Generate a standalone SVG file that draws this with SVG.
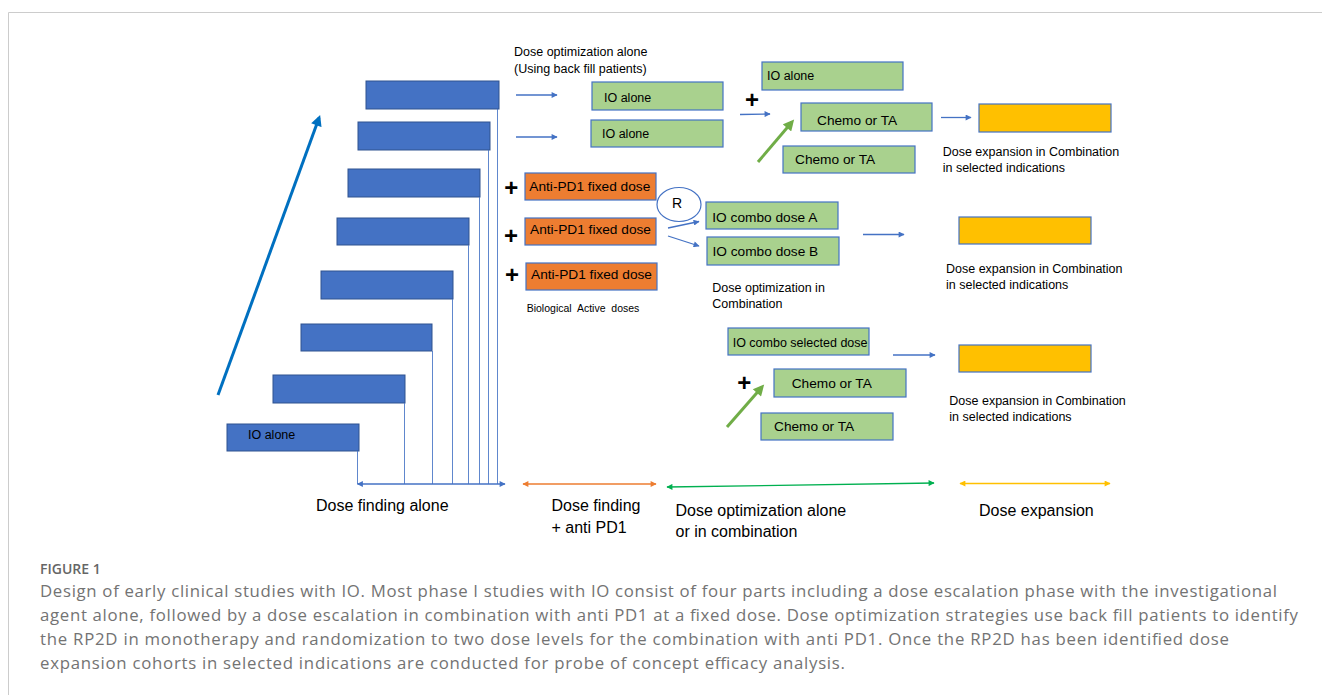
<svg xmlns="http://www.w3.org/2000/svg" width="1322" height="695" viewBox="0 0 1322 695">
<style>
text{font-family:"Liberation Sans",Arial,sans-serif;fill:#000}
.bar{fill:#4472C4;stroke:#2F528F;stroke-width:1}
.g{fill:#A9D18E;stroke:#4472C4;stroke-width:1.2}
.o{fill:#ED7D31;stroke:#4472C4;stroke-width:1.2}
.y{fill:#FFC000;stroke:#4472C4;stroke-width:1.2}
.vl{stroke:#4472C4;stroke-width:1;fill:none;opacity:0.85}
.sa{stroke:#4472C4;stroke-width:1.3;fill:none}
.t12{font-size:12.5px}
.t13{font-size:13.7px}
.plus{font-size:24px;font-weight:bold;text-anchor:middle}
.lbl{font-size:16px}
.cap{font-family:"Open Sans","Liberation Sans",sans-serif;font-size:16.8px;fill:#737373}
.fig{font-family:"Open Sans","Liberation Sans",sans-serif;font-size:14px;font-weight:600;fill:#666}
</style>
<defs>
<marker id="ab" viewBox="0 0 10 10" refX="9" refY="5" markerWidth="7" markerHeight="6" markerUnits="userSpaceOnUse" orient="auto-start-reverse"><path d="M0,0 L10,5 L0,10 z" fill="#4472C4"/></marker>
<marker id="ao" viewBox="0 0 10 10" refX="9" refY="5" markerWidth="7" markerHeight="6" markerUnits="userSpaceOnUse" orient="auto-start-reverse"><path d="M0,0 L10,5 L0,10 z" fill="#ED7D31"/></marker>
<marker id="ag" viewBox="0 0 10 10" refX="9" refY="5" markerWidth="7" markerHeight="6" markerUnits="userSpaceOnUse" orient="auto-start-reverse"><path d="M0,0 L10,5 L0,10 z" fill="#00B050"/></marker>
<marker id="ay" viewBox="0 0 10 10" refX="9" refY="5" markerWidth="7" markerHeight="6" markerUnits="userSpaceOnUse" orient="auto-start-reverse"><path d="M0,0 L10,5 L0,10 z" fill="#FFC000"/></marker>
<marker id="abig" viewBox="0 0 10 10" refX="7" refY="5" markerWidth="12" markerHeight="11" markerUnits="userSpaceOnUse" orient="auto"><path d="M0,0 L10,5 L0,10 z" fill="#0070C0"/></marker>
<marker id="agr" viewBox="0 0 10 10" refX="7" refY="5" markerWidth="12" markerHeight="11" markerUnits="userSpaceOnUse" orient="auto"><path d="M0,0 L10,5 L0,10 z" fill="#70AD47"/></marker>
</defs>
<rect width="1322" height="695" fill="#fff"/>
<g id="frame"><path d="M8.5,695 V12.5 H1322" fill="none" stroke="#cccccc" stroke-width="1"/></g>

<g id="staircase">
<rect class="bar" x="366" y="81" width="133" height="28"/>
<rect class="bar" x="358" y="122" width="132" height="28"/>
<rect class="bar" x="348" y="169" width="132" height="28"/>
<rect class="bar" x="337" y="218" width="132" height="27"/>
<rect class="bar" x="321" y="271" width="132" height="28"/>
<rect class="bar" x="301" y="324" width="131" height="27"/>
<rect class="bar" x="273" y="375" width="132" height="28"/>
<rect class="bar" x="227" y="424" width="132" height="27"/>
<text class="t12" x="248" y="438.5">IO alone</text>
</g>

<g id="connectors">
<path class="vl" d="M497.5,109 V484 M488.5,150 V484 M479.5,197 V484 M468.5,245 V484 M452.5,299 V484 M432.5,351 V484 M404.5,403 V484 M357.5,451 V484"/>
<line x1="218" y1="395" x2="319" y2="118" stroke="#0070C0" stroke-width="3" marker-end="url(#abig)"/>
<line class="sa" x1="516" y1="95" x2="557" y2="95" marker-end="url(#ab)"/>
<line class="sa" x1="516" y1="137" x2="557" y2="137" marker-end="url(#ab)"/>
<line class="sa" x1="740" y1="114.5" x2="770" y2="114" marker-end="url(#ab)"/>
<line x1="758" y1="162" x2="792" y2="122" stroke="#70AD47" stroke-width="3" marker-end="url(#agr)"/>
<line class="sa" x1="941" y1="117.5" x2="971" y2="117.5" marker-end="url(#ab)"/>
<line class="sa" x1="668" y1="228" x2="699" y2="221.5" marker-end="url(#ab)"/>
<line class="sa" x1="668" y1="236" x2="699" y2="246" marker-end="url(#ab)"/>
<line class="sa" x1="863" y1="234.5" x2="904" y2="234.5" marker-end="url(#ab)"/>
<line class="sa" x1="893" y1="355" x2="935" y2="355" marker-end="url(#ab)"/>
<line x1="727" y1="427" x2="762" y2="387" stroke="#70AD47" stroke-width="3" marker-end="url(#agr)"/>
<line class="sa" x1="357.5" y1="484" x2="505" y2="484" marker-start="url(#ab)" marker-end="url(#ab)"/>
<line x1="523" y1="484" x2="656" y2="484" stroke="#ED7D31" stroke-width="1.3" marker-start="url(#ao)" marker-end="url(#ao)"/>
<line x1="667" y1="487" x2="934" y2="483" stroke="#00B050" stroke-width="1.3" marker-start="url(#ag)" marker-end="url(#ag)"/>
<line x1="960" y1="483.5" x2="1110" y2="483.5" stroke="#FFC000" stroke-width="1.3" marker-start="url(#ay)" marker-end="url(#ay)"/>
</g>

<g id="label-dose-opt-alone">
<text class="t12" x="514" y="56.2">Dose optimization alone</text>
<text class="t12" x="514" y="72.8">(Using back fill patients)</text>
</g>
<g id="io-alone-1"><rect class="g" x="592" y="82" width="131" height="28"/><text class="t12" x="604" y="102">IO alone</text></g>
<g id="io-alone-2"><rect class="g" x="591" y="120" width="132" height="27"/><text class="t12" x="602" y="138">IO alone</text></g>
<g id="plus-1"><text class="plus" x="752" y="107.5">+</text></g>
<g id="io-alone-3"><rect class="g" x="762" y="62" width="141" height="28"/><text class="t12" x="767" y="79.5">IO alone</text></g>
<g id="chemo-1"><rect class="g" x="801" y="103" width="131" height="28"/><text class="t13" x="817" y="124.5">Chemo or TA</text></g>
<g id="chemo-2"><rect class="g" x="783" y="146" width="132" height="27"/><text class="t13" x="795" y="164">Chemo or TA</text></g>
<g id="yellow-1"><rect class="y" x="979" y="104" width="132" height="28"/></g>
<g id="label-exp-1">
<text class="t12" x="942.7" y="155.8">Dose expansion in Combination</text>
<text class="t12" x="942.7" y="172.2">in selected indications</text>
</g>

<g id="anti-pd1-1"><text class="plus" x="511.3" y="196.2">+</text><rect class="o" x="525" y="173" width="131" height="27"/><text class="t13" x="529.3" y="190.7">Anti-PD1 fixed dose</text></g>
<g id="anti-pd1-2"><text class="plus" x="511" y="243.5">+</text><rect class="o" x="525" y="218" width="131" height="27"/><text class="t13" x="530" y="234.3">Anti-PD1 fixed dose</text></g>
<g id="anti-pd1-3"><text class="plus" x="512" y="282.8">+</text><rect class="o" x="526" y="263" width="131" height="27"/><text class="t13" x="531" y="279.3">Anti-PD1 fixed dose</text></g>
<g id="label-bio"><text x="526.7" y="312" font-size="10.5px" xml:space="preserve">Biological  Active  doses</text></g>
<g id="randomize"><ellipse cx="679" cy="204.5" rx="22" ry="17" fill="#fff" stroke="#4472C4" stroke-width="1.2"/><text x="677" y="207.5" font-size="14px" text-anchor="middle">R</text></g>
<g id="io-combo-a"><rect class="g" x="706" y="202" width="132" height="27"/><text class="t13" x="712.3" y="221.7">IO combo dose A</text></g>
<g id="io-combo-b"><rect class="g" x="707" y="237" width="132" height="28"/><text class="t13" x="712.5" y="256.3">IO combo dose B</text></g>
<g id="label-dose-opt-comb">
<text class="t12" x="712.3" y="291.8">Dose optimization in</text>
<text class="t12" x="712.3" y="307.5">Combination</text>
</g>
<g id="yellow-2"><rect class="y" x="959" y="217" width="132" height="27"/></g>
<g id="label-exp-2">
<text class="t12" x="946" y="272.8">Dose expansion in Combination</text>
<text class="t12" x="946" y="288.8">in selected indications</text>
</g>

<g id="io-combo-selected"><rect class="g" x="728" y="328" width="141" height="27"/><text class="t12" x="732.7" y="346.8">IO combo selected dose</text></g>
<g id="plus-2"><text class="plus" x="744.3" y="390.5">+</text></g>
<g id="chemo-3"><rect class="g" x="774" y="369" width="132" height="28"/><text class="t13" x="791.7" y="388.2">Chemo or TA</text></g>
<g id="chemo-4"><rect class="g" x="761" y="413" width="132" height="27"/><text class="t13" x="774" y="431.2">Chemo or TA</text></g>
<g id="yellow-3"><rect class="y" x="959" y="345" width="132" height="27"/></g>
<g id="label-exp-3">
<text class="t12" x="949.3" y="404.5">Dose expansion in Combination</text>
<text class="t12" x="949.3" y="420.5">in selected indications</text>
</g>

<g id="phase-labels">
<text class="lbl" x="316" y="511">Dose finding alone</text>
<text class="lbl" x="551.5" y="511">Dose finding</text>
<text class="lbl" x="551.5" y="532.5">+ anti PD1</text>
<text class="lbl" x="675.5" y="516">Dose optimization alone</text>
<text class="lbl" x="675.5" y="537">or in combination</text>
<text class="lbl" x="979" y="516">Dose expansion</text>
</g>

<g id="caption">
<text class="fig" x="40" y="574">FIGURE 1</text>
<text class="cap" x="40" y="597" textLength="1237" lengthAdjust="spacing">Design of early clinical studies with IO. Most phase I studies with IO consist of four parts including a dose escalation phase with the investigational</text>
<text class="cap" x="40" y="621" textLength="1258" lengthAdjust="spacing">agent alone, followed by a dose escalation in combination with anti PD1 at a fixed dose. Dose optimization strategies use back fill patients to identify</text>
<text class="cap" x="40" y="645" textLength="1189" lengthAdjust="spacing">the RP2D in monotherapy and randomization to two dose levels for the combination with anti PD1. Once the RP2D has been identified dose</text>
<text class="cap" x="40" y="669" textLength="805" lengthAdjust="spacing">expansion cohorts in selected indications are conducted for probe of concept efficacy analysis.</text>
</g>
</svg>
